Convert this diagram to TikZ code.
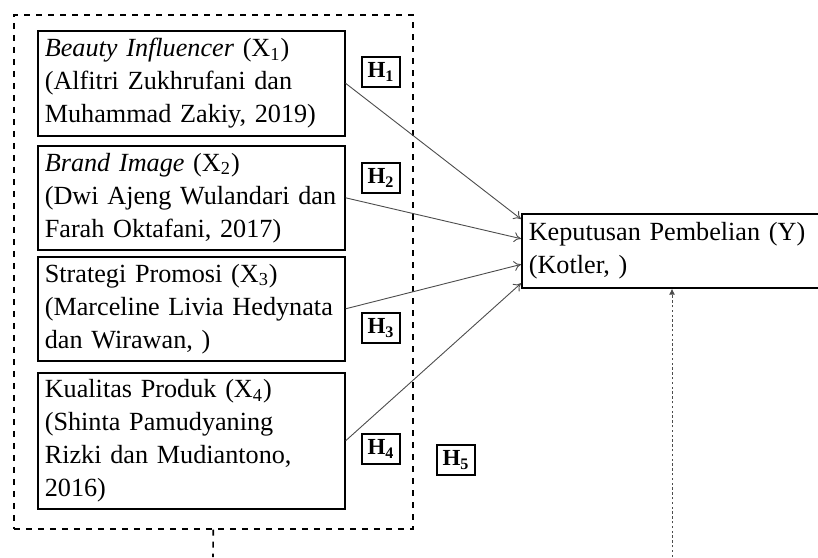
\documentclass[tikz,border=0pt]{standalone}
\usepackage{fontspec}
\setmainfont{Liberation Serif}
\usetikzlibrary{calc,arrows.meta}
\hyphenpenalty=10000

\begin{document}
\begin{tikzpicture}[x=0.5pt,y=-0.5pt,
  var/.style={draw,line width=0.8pt,anchor=north west,align=left,text width=146.5pt,inner xsep=3.5pt,inner ysep=0pt,font=\fontsize{13.1}{16.5}\selectfont},
  hyp/.style={draw,line width=0.8pt,minimum width=19pt,minimum height=15pt,inner sep=0pt,font=\bfseries\fontsize{11.5}{12}\selectfont},
  link/.style={-{To[length=3.5pt,width=5pt]},line width=0.45pt,draw=black!70}]

\useasboundingbox (0,0) rectangle (818,557);

\node[draw,dashed,line width=0.8pt,minimum width=199.5pt,minimum height=257pt,inner sep=0pt,anchor=north west] (grp) at (13,14) {};

\node[var,minimum height=52.5pt] (x1) at (37,30) {\textit{Beauty Influencer} (X\textsubscript{1})\\(Alfitri Zukhrufani dan\\Muhammad Zakiy, 2019)};
\node[var,minimum height=52pt] (x2) at (37,145) {\textit{Brand Image} (X\textsubscript{2})\\(Dwi Ajeng Wulandari dan\\Farah Oktafani, 2017)};
\node[var,minimum height=52pt] (x3) at (37,256) {Strategi Promosi (X\textsubscript{3})\\(Marceline Livia Hedynata\\dan Wirawan, )};
\node[var,minimum height=68pt] (x4) at (37,372) {Kualitas Produk (X\textsubscript{4})\\(Shinta Pamudyaning\\Rizki dan Mudiantono,\\2016)};

\node[var,text width=160pt,minimum height=37pt] (y) at (521,213) {Keputusan Pembelian (Y)\\(Kotler, )};

\node[hyp] (h1) at (381,72) {H\textsubscript{1}};
\node[hyp] (h2) at (381,178) {H\textsubscript{2}};
\node[hyp] (h3) at (381,328) {H\textsubscript{3}};
\node[hyp] (h4) at (381,449) {H\textsubscript{4}};
\node[hyp] (h5) at (456,460) {H\textsubscript{5}};

\coordinate (b1) at (213,557);
\coordinate (b2) at (672,557);

\draw[link] (x1.east) -- ($(y.north west)!0.08!(y.south west)$);
\draw[link] (x2.east) -- ($(y.north west)!0.34!(y.south west)$);
\draw[link] (x3.east) -- ($(y.north west)!0.68!(y.south west)$);
\draw[link] (x4.east) -- ($(y.north west)!0.93!(y.south west)$);
\draw[dashed,line width=0.8pt] (grp.south) -- (b1);
\draw[-{Latex[length=3pt,width=3pt]},line width=0.5pt,draw=black!70,dash pattern=on 1.2pt off 1.2pt] (b2) -- (y.south -| b2);

\end{tikzpicture}
\end{document}
